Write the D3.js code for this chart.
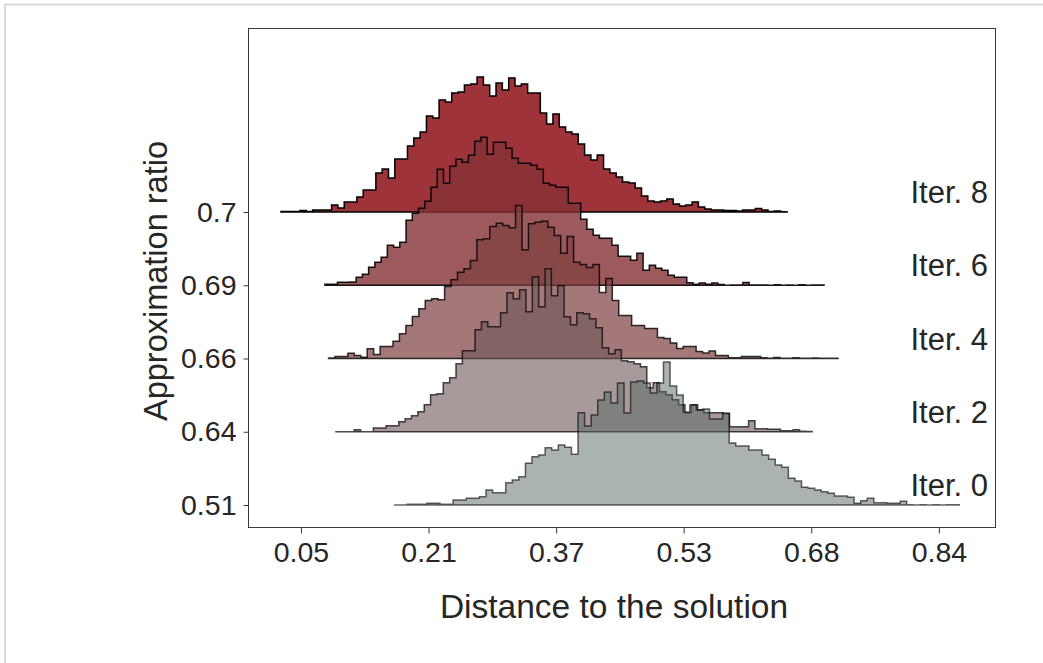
<!DOCTYPE html>
<html>
<head>
<meta charset="utf-8">
<script src="https://cdn.jsdelivr.net/npm/d3@7"></script>
<style>
  html, body { margin: 0; padding: 0; background: #fff; }
  svg { display: block; }
  text { font-family: "Liberation Sans", Arial, Helvetica, sans-serif; fill: #262626; }
</style>
</head>
<body>
<svg id="chart" width="1043" height="663"></svg>
<script>
// ---------------- data ----------------
const ratioLabels = ["0.7", "0.69", "0.66", "0.64", "0.51"];
const iterLabels = ["Iter. 8", "Iter. 6", "Iter. 4", "Iter. 2", "Iter. 0"];

// x extent (distance to the solution) of each histogram
const range8 = [0.0253, 0.6500];
const range6 = [0.0796, 0.6957];
const range4 = [0.0840, 0.7130];
const range2 = [0.0922, 0.6811];
const range0 = [0.1648, 0.8627];

// bin counts
const counts8 = [0.5,0.5,0.5,1.5,0.5,2,2,2,7,4,
  10,10,15,22,22,39,43,34,53,53,
  66,74,80,96,94,112,110,119,120,127,
  128,135,127,116,129,122,134,126,128,119,
  119,99,88,98,85,80,78,68,57,52,
  57,43,39,35,30,29,24,16,11,10,
  11,13,8,6,7,10,5,3,2,2,
  1.5,1.5,1,2,2,3.5,2,0.5,1,0.3];
const counts6 = [1,1,3,3,3.3,8,11,18,23,28,
  40,38,43,65,72,77,84,98,116,102,
  119,126,123,130,144,148,131,143,143,137,
  127,122,122,120,116,102,100,98,98,82,
  82,66,56,50,47,47,40,29,29,25,
  32,15,20,17,15,10,8,8,2.5,1,
  2.3,1,2.3,0.7,0,0.2,0.2,2.7,0.3,0.3,
  0.3,0,0.5,0,0.3,0,0.5,0,0.3,0.2];
const counts4 = [0.5,2,2,5.3,3,1.3,9.7,4,12,12,
  17.3,24.7,33,42,49.7,58,59.7,58.7,72,78.7,
  86.3,89.7,98,118.7,119.7,132,135.3,133,130.7,153,
  108.7,134.7,136.3,137.3,131.3,123,105.3,122,96.3,94,
  91,94,66,80,58,43,43,33,33,30,
  30,21,20,15.5,10,12,12,7,5.5,7.5,
  3,3,0.7,0.7,2,2,2,0.7,0.3,1,
  0.3,0.3,0.7,0.3,0.3,0.5,0.3,0.3,0.3];
const counts2 = [0,0,0,2,0,0,3.7,3.7,6,6,
  10,13,16,20,27,37,38,49,54,68,
  81,81,102,110,105,105,119,139,133,142,
  120,155,125,163,136,146,115,107,119,118,
  113,104,84,78,82,71,70,68,65,44,
  49,40,37,32,27,19,27,22,19,19,
  19,18,5,5,5,11,3,3,2.5,2.5,
  1,1,2,0.5,0.3];
const counts0 = [0,0,0.7,0.7,0.7,1.7,1.7,0.7,0.7,5,
  5,6.7,6.7,8.3,15,12.3,12.3,22.3,25,28.3,
  41.7,48.3,50,57.3,55,60,57.7,50.7,92.3,79,
  90,105,113,102,122,92,123,124,122,112,
  122,143,119,110,93,100,95,96,86,86,
  92,62,59,59,55,55,50,45.7,40,37.7,
  26.7,24,17.7,16.7,15,13.3,11.7,9,9,7.7,
  1.7,4.3,6.7,2.3,2.3,1.7,1.7,3.7,0.3,0,
  0.3,0,0.3,0,0.3,0.3];

const xTickValues = [0.05, 0.2075, 0.365, 0.5225, 0.68, 0.8375];
const xTickLabels = ["0.05", "0.21", "0.37", "0.53", "0.68", "0.84"];

// ---------------- layout / style ----------------
const series = [
  { label: iterLabels[0], ratio: ratioLabels[0], range: range8, counts: counts8, fill: "rgb(148,29,35)",  alpha: 0.9 },
  { label: iterLabels[1], ratio: ratioLabels[1], range: range6, counts: counts6, fill: "rgb(132,49,52)",  alpha: 0.8 },
  { label: iterLabels[2], ratio: ratioLabels[2], range: range4, counts: counts4, fill: "rgb(125,62,62)",  alpha: 0.7 },
  { label: iterLabels[3], ratio: ratioLabels[3], range: range2, counts: counts2, fill: "rgb(110,87,87)",  alpha: 0.6 },
  { label: iterLabels[4], ratio: ratioLabels[4], range: range0, counts: counts0, fill: "rgb(85,101,101)", alpha: 0.5 }
];

const plot = { left: 248, top: 28, right: 995, bottom: 527 };
const svg = d3.select("#chart");

// outer light frame
svg.append("path")
  .attr("d", "M5,663 V4.5 H1043")
  .attr("fill", "none").attr("stroke", "#d9d9d9").attr("stroke-width", 2);

const x = d3.scaleLinear().domain([-0.0154, 0.9068]).range([plot.left, plot.right]);
const y = d3.scalePoint().domain(ratioLabels).range([212, 505]);
const h = d3.scaleLinear().domain([0, 100]).range([0, 100]);

// plot frame
svg.append("rect")
  .attr("x", plot.left + 0.5).attr("y", plot.top + 0.5)
  .attr("width", plot.right - plot.left).attr("height", plot.bottom - plot.top)
  .attr("fill", "none").attr("stroke", "#3a3a3a").attr("stroke-width", 1);

// ridges
const g = svg.append("g");
series.forEach(s => {
  const n = s.counts.length;
  const base = y(s.ratio);
  const edges = d3.range(n + 1).map(k => s.range[0] + (s.range[1] - s.range[0]) * k / n);
  const pts = edges.map((e, k) => ({ e: e, v: s.counts[Math.min(k, n - 1)] }));
  const area = d3.area()
    .curve(d3.curveStepAfter)
    .x(d => x(d.e))
    .y0(base)
    .y1(d => base - h(d.v));
  g.append("path")
    .datum(pts)
    .attr("d", area)
    .attr("fill", s.fill)
    .attr("fill-opacity", s.alpha)
    .attr("stroke", "#000")
    .attr("stroke-opacity", Math.min(1, s.alpha + 0.1))
    .attr("stroke-width", 1.5)
    .attr("stroke-linejoin", "miter");

  svg.append("text")
    .attr("x", 988).attr("y", base - 9)
    .attr("text-anchor", "end")
    .style("font-size", "31px")
    .text(s.label);
});

// x axis
const xAxis = d3.axisBottom(x)
  .tickValues(xTickValues)
  .tickFormat((d, i) => xTickLabels[i])
  .tickSize(6).tickPadding(8);
const gx = svg.append("g").attr("transform", `translate(0,${plot.bottom + 0.5})`).call(xAxis);
gx.select(".domain").remove();
gx.selectAll(".tick line").attr("stroke", "#3a3a3a");
gx.selectAll(".tick text").style("font-size", "28.5px").attr("fill", "#262626")
  .style("font-family", "'Liberation Sans', Arial, sans-serif");

// y axis
const yAxis = d3.axisLeft(y).tickSize(5).tickPadding(7);
const gy = svg.append("g").attr("transform", `translate(${plot.left + 0.5},0)`).call(yAxis);
gy.select(".domain").remove();
gy.selectAll(".tick line").attr("stroke", "#3a3a3a");
gy.selectAll(".tick text").style("font-size", "28.5px").attr("fill", "#262626")
  .style("font-family", "'Liberation Sans', Arial, sans-serif");

// axis titles
svg.append("text")
  .attr("x", 614).attr("y", 618)
  .attr("text-anchor", "middle")
  .style("font-size", "33.5px")
  .text("Distance to the solution");

svg.append("text")
  .attr("transform", "translate(167,281) rotate(-90)")
  .attr("text-anchor", "middle")
  .style("font-size", "32.5px")
  .text("Approximation ratio");
</script>
</body>
</html>
